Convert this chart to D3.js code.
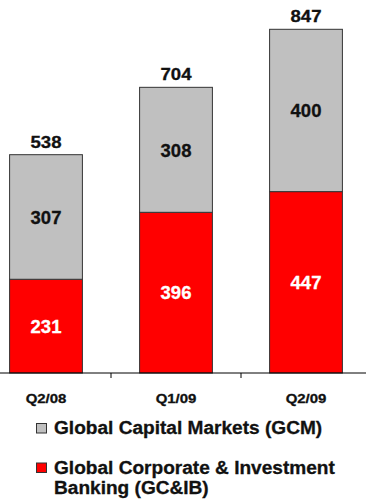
<!DOCTYPE html>
<html>
<head>
<meta charset="utf-8">
<script src="https://cdn.jsdelivr.net/npm/d3@7"></script>
<style>
  html, body { margin: 0; padding: 0; background: #fff; }
  svg { display: block; font-family: "Liberation Sans", Arial, sans-serif; font-weight: bold; }
  text { stroke: currentColor; stroke-width: 0.3px; }
</style>
</head>
<body>
<svg id="chart" width="366" height="500"></svg>
<script>
// Quarterly revenue split by business line
const quarters = ["Q2/08", "Q1/09", "Q2/09"];
const gcib = [231, 396, 447];   // Global Corporate & Investment Banking
const gcm = [307, 308, 400];    // Global Capital Markets
const totals = [538, 704, 847];
const seriesNames = ["Global Capital Markets (GCM)", "Global Corporate & Investment", "Banking (GC&IB)"];

const svg = d3.select("#chart");
const baseY = 373;

const x = d3.scaleBand().domain(quarters).range([-19, 371]).padding(0);
const y = d3.scaleLinear().domain([0, 847]).range([baseY, 29.3]);
const barW = x.bandwidth() * 0.56;
const bx = q => x(q) + (x.bandwidth() - barW) / 2;
const cx = q => x(q) + x.bandwidth() / 2;

// widen glyphs horizontally by a factor, keeping the font height
function widen(sel, k) {
  sel.each(function () {
    const w = this.getComputedTextLength();
    d3.select(this).attr("textLength", w * k).attr("lengthAdjust", "spacingAndGlyphs");
  });
}

const rows = quarters.map((q, i) => ({ q, red: gcib[i], gray: gcm[i], total: totals[i] }));

// stacked segments: red at the bottom, gray above
const g = svg.append("g");
g.selectAll("rect.red").data(rows).join("rect")
  .attr("x", d => bx(d.q)).attr("width", barW)
  .attr("y", d => y(d.red)).attr("height", d => y(0) - y(d.red))
  .attr("fill", "#ff0000").attr("stroke", "#333").attr("stroke-width", 1);
g.selectAll("rect.gray").data(rows).join("rect")
  .attr("x", d => bx(d.q)).attr("width", barW)
  .attr("y", d => y(d.red + d.gray)).attr("height", d => y(d.red) - y(d.red + d.gray))
  .attr("fill", "#c0c0c0").attr("stroke", "#333").attr("stroke-width", 1);

// value labels inside segments
g.selectAll("text.red").data(rows).join("text").attr("class", "red")
  .attr("x", d => cx(d.q)).attr("y", d => (y(0) + y(d.red)) / 2 + 6.7)
  .attr("text-anchor", "middle").attr("font-size", 18.5).attr("fill", "#fff").style("color", "#fff")
  .text(d => d.red);
g.selectAll("text.gray").data(rows).join("text").attr("class", "gray")
  .attr("x", d => cx(d.q)).attr("y", d => (y(d.red) + y(d.red + d.gray)) / 2 + 6.7)
  .attr("text-anchor", "middle").attr("font-size", 18.5).attr("fill", "#111").style("color", "#111")
  .text(d => d.gray);
// totals above bars
g.selectAll("text.total").data(rows).join("text").attr("class", "total")
  .attr("x", d => cx(d.q)).attr("y", d => y(d.total) - 7)
  .attr("text-anchor", "middle").attr("font-size", 16).attr("fill", "#111").style("color", "#111")
  .text(d => d.total)
  .call(widen, 1.16);

// category axis
const axis = svg.append("g").attr("transform", `translate(0,${baseY})`)
  .call(d3.axisBottom(x).tickSize(0));
axis.select(".domain").attr("d", "M0,0H366").attr("stroke", "#000");
axis.selectAll("text").attr("y", 30).attr("dy", 0).attr("font-size", 13)
  .attr("font-family", "Liberation Sans, Arial, sans-serif")
  .attr("font-weight", "bold").attr("fill", "#111").style("color", "#111")
  .call(widen, 1.15);
// separators between categories
axis.selectAll("line.sep").data(quarters.slice(1)).join("line")
  .attr("x1", d => x(d)).attr("x2", d => x(d)).attr("y1", 0).attr("y2", 5)
  .attr("stroke", "#000");

// legend
const leg = svg.append("g");
const legColors = ["#c0c0c0", "#ff0000"];
const legY = [423.5, 463];
legColors.forEach((c, i) => {
  leg.append("rect").attr("x", 36.5).attr("y", legY[i]).attr("width", 10).attr("height", 9.5)
    .attr("fill", c).attr("stroke", "#333").attr("stroke-width", 1);
});
const legLines = [[seriesNames[0], 434], [seriesNames[1], 474], [seriesNames[2], 494.3]];
leg.selectAll("text").data(legLines).join("text")
  .attr("x", 54).attr("y", d => d[1]).attr("font-size", 17.5).attr("fill", "#111").style("color", "#111")
  .text(d => d[0])
  .call(widen, 1.09);
</script>
</body>
</html>
